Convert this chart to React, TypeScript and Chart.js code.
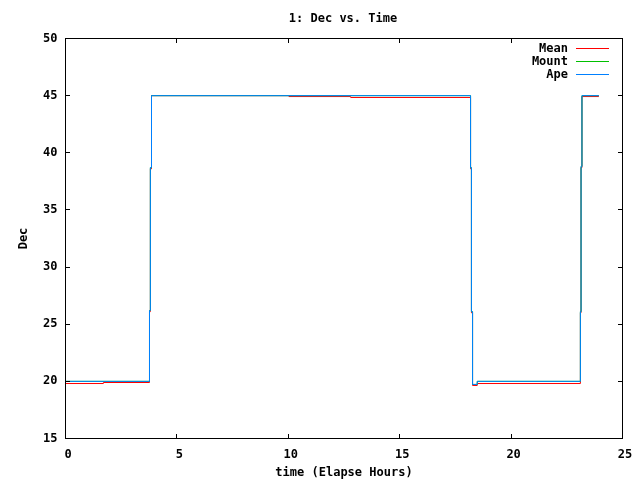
import { useEffect, useRef } from "react";
import { Chart, registerables } from "chart.js";

Chart.register(...registerables);

const chartTitle = "1: Dec vs. Time";
const xAxisTitle = "time (Elapse Hours)";
const yAxisTitle = "Dec";
const seriesNames = ["Mean", "Mount", "Ape"];
const seriesColors = ["#ff0000", "#00c000", "#0080ff"];

const meanTime = [0, 1.7, 3.77, 3.81, 3.86, 10.03, 12.8, 18.18, 18.22, 18.27, 18.48, 23.11, 23.14, 23.18, 23.94];
const meanDec = [19.81, 19.9, 26.1, 38.6, 45.0, 44.92, 44.84, 38.6, 26.0, 19.64, 19.81, 26.0, 38.7, 44.92, 44.92];

const mountTime = [0, 3.77, 3.81, 3.86, 18.18, 18.22, 18.27, 18.48, 23.11, 23.14, 23.18, 23.94];
const mountDec = [20.0, 26.2, 38.7, 45.0, 38.7, 26.1, 19.73, 20.0, 26.1, 38.8, 45.0, 45.0];

const apeTime = [0, 3.77, 3.81, 3.86, 18.18, 18.22, 18.27, 18.48, 23.11, 23.14, 23.18, 23.94];
const apeDec = [20.0, 26.2, 38.7, 45.0, 38.7, 26.1, 19.73, 20.0, 26.1, 38.8, 45.0, 45.0];

const xTicks = [0, 5, 10, 15, 20, 25];
const yTicks = [15, 20, 25, 30, 35, 40, 45, 50];

const FONT_FAMILY = "'DejaVu Sans Mono', monospace";
const FONT_SIZE = 12;

const toPoints = (xs: number[], ys: number[]) => xs.map((x, i) => ({ x, y: ys[i] }));

const framePlugin = {
  id: "gnuplotFrame",
  afterDatasetsDraw(chart: any) {
    const { ctx, chartArea } = chart;
    const { left, right, top, bottom } = chartArea;
    const xs = chart.scales.x;
    const ys = chart.scales.y;
    ctx.save();
    ctx.strokeStyle = "#000";
    ctx.lineWidth = 1;
    ctx.beginPath();
    const tl = 4.5;
    yTicks.forEach((v) => {
      const py = Math.floor(ys.getPixelForValue(v)) + 0.5;
      ctx.moveTo(left, py);
      ctx.lineTo(left + tl, py);
      ctx.moveTo(right, py);
      ctx.lineTo(right - tl, py);
    });
    xTicks.forEach((v) => {
      const px = Math.floor(xs.getPixelForValue(v)) + 0.5;
      ctx.moveTo(px, bottom);
      ctx.lineTo(px, bottom - tl);
      ctx.moveTo(px, top);
      ctx.lineTo(px, top + tl);
    });
    ctx.stroke();
    ctx.strokeRect(left, top, right - left, bottom - top);
    ctx.restore();
  },
  afterDraw(chart: any) {
    const { ctx, chartArea } = chart;
    ctx.save();
    ctx.fillStyle = "#000";
    ctx.font = `bold ${FONT_SIZE}px ${FONT_FAMILY}`;
    ctx.textBaseline = "middle";
    ctx.textAlign = "center";
    ctx.fillText(chartTitle, (chartArea.left + chartArea.right) / 2 - 1, 19);
    // legend
    ctx.textAlign = "right";
    seriesNames.forEach((name, i) => {
      const y = Math.floor(48.5 + i * 12.8) + 0.5;
      ctx.fillStyle = "#000";
      ctx.fillText(name, 568, y + 0.5);
      ctx.strokeStyle = seriesColors[i];
      ctx.lineWidth = 1;
      ctx.beginPath();
      ctx.moveTo(576, y);
      ctx.lineTo(609, y);
      ctx.stroke();
    });
    ctx.restore();
  },
};

export default function App() {
  const ref = useRef<HTMLCanvasElement | null>(null);

  useEffect(() => {
    if (!ref.current) return;
    const font = { family: FONT_FAMILY, size: FONT_SIZE, weight: "bold" as const };
    const series = [
      { name: seriesNames[0], data: toPoints(meanTime, meanDec), color: seriesColors[0], order: 2 },
      { name: seriesNames[1], data: toPoints(mountTime, mountDec), color: seriesColors[1], order: 1 },
      { name: seriesNames[2], data: toPoints(apeTime, apeDec), color: seriesColors[2], order: 0 },
    ];
    const chart = new Chart(ref.current, {
      type: "line",
      data: {
        datasets: series.map((s) => ({
          label: s.name,
          data: s.data,
          borderColor: s.color,
          backgroundColor: s.color,
          borderWidth: 1,
          pointRadius: 0,
          stepped: "before" as const,
          fill: false,
          order: s.order,
        })),
      },
      options: {
        responsive: false,
        animation: false,
        layout: { padding: { left: 0, top: 38.5, right: 17.5, bottom: 0 } },
        plugins: {
          legend: { display: false },
          title: { display: false },
          tooltip: { enabled: false },
        },
        scales: {
          x: {
            type: "linear",
            min: 0,
            max: 25,
            afterFit: (s: any) => {
              s.height = 41.5;
            },
            afterBuildTicks: (s: any) => {
              s.ticks = xTicks.map((v) => ({ value: v }));
            },
            grid: { display: false, drawTicks: false },
            border: { display: false },
            ticks: { font, color: "#000", padding: 9, maxRotation: 0, autoSkip: false, labelOffset: 2.5 },
            title: { display: true, text: xAxisTitle, font, color: "#000", padding: { top: 3, bottom: 0 } },
          },
          y: {
            type: "linear",
            min: 15,
            max: 50,
            afterFit: (s: any) => {
              s.width = 65.5;
            },
            afterBuildTicks: (s: any) => {
              s.ticks = yTicks.map((v) => ({ value: v }));
            },
            grid: { display: false, drawTicks: false },
            border: { display: false },
            ticks: { font, color: "#000", padding: 8, autoSkip: false },
            title: { display: true, text: yAxisTitle, font, color: "#000", padding: { top: 17, bottom: 0 } },
          },
        },
      },
      plugins: [framePlugin],
    });
    return () => chart.destroy();
  }, []);

  return (
    <div style={{ position: "absolute", left: 0, top: 0, width: 640, height: 480, background: "#fff" }}>
      <canvas ref={ref} width={640} height={480} style={{ display: "block" }} />
    </div>
  );
}
